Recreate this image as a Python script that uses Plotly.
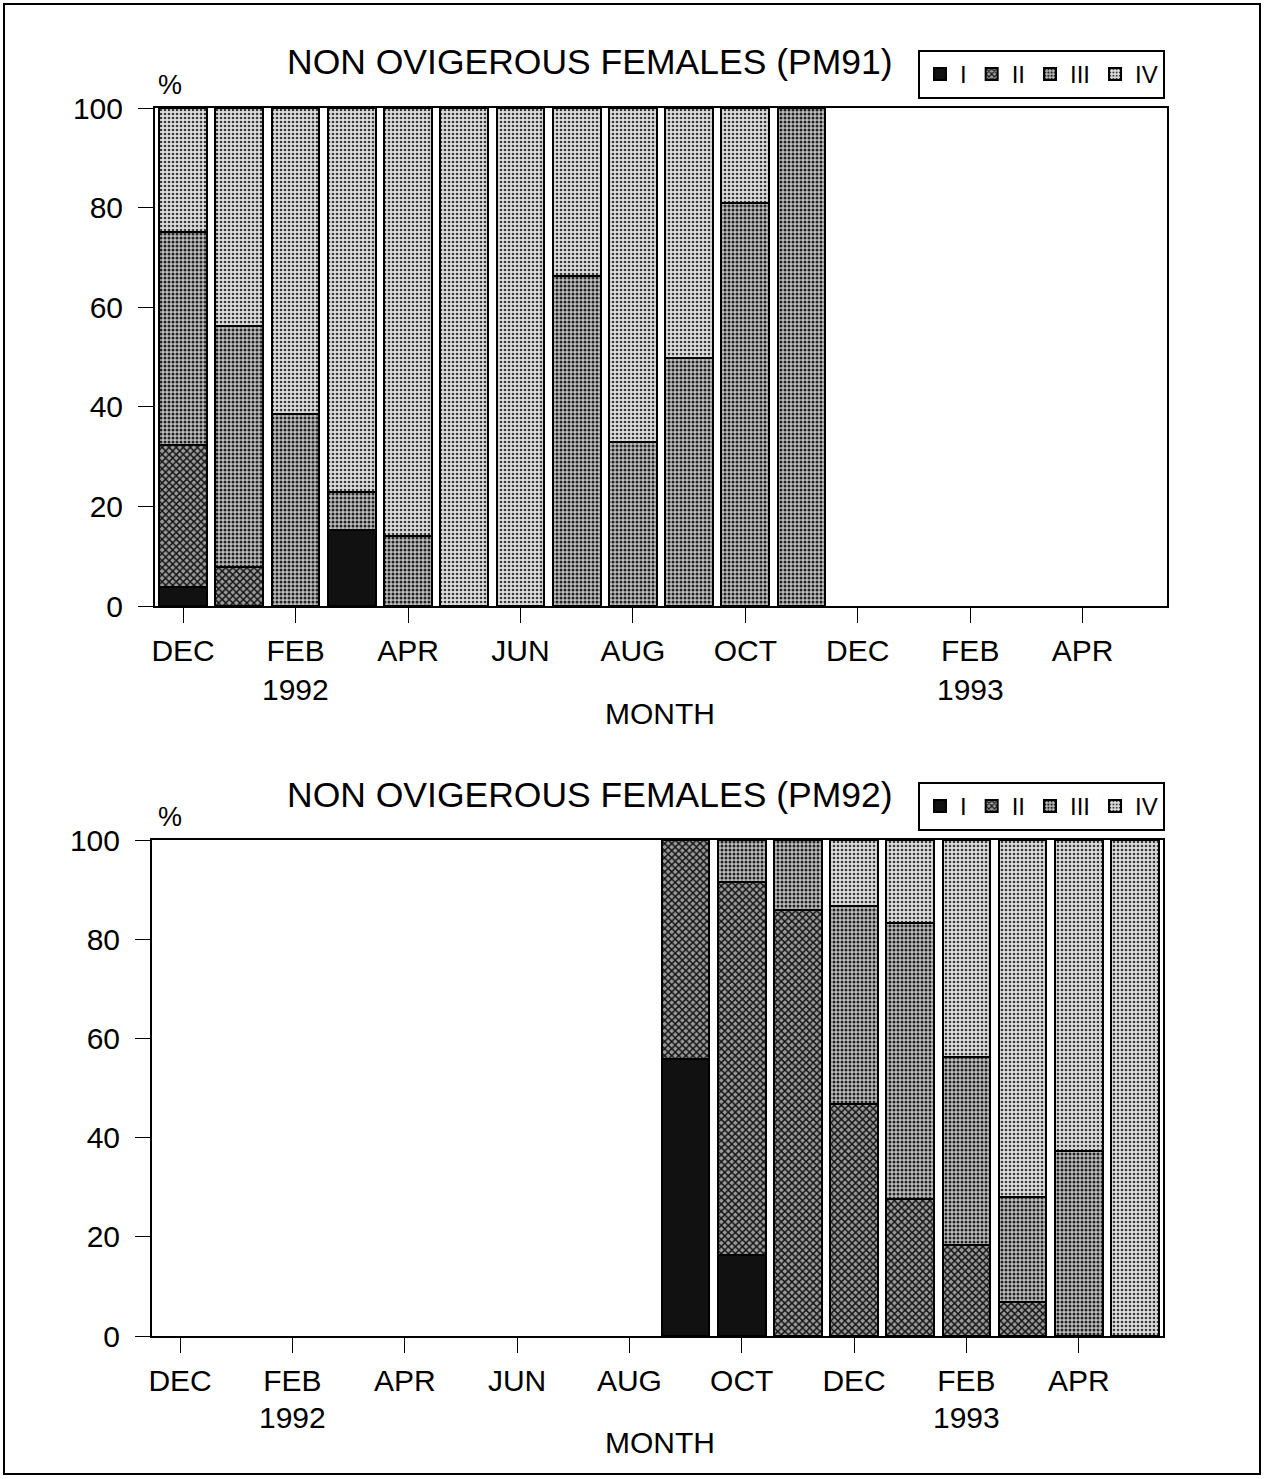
import plotly.graph_objects as go

# ---------------- data ----------------
month_ticks = ["DEC", "FEB", "APR", "JUN", "AUG", "OCT", "DEC", "FEB", "APR"]
tick_pos = [0, 2, 4, 6, 8, 10, 12, 14, 16]          # month index (0 = Dec 1991)
stages = ["I", "II", "III", "IV"]

# PM91 cohort: Dec 1991 .. Nov 1992
pm91_months = list(range(0, 12))
pm91_I   = [3.8, 0, 0, 15.3, 0, 0, 0, 0, 0, 0, 0, 0]
pm91_II  = [28.5, 7.9, 0, 0, 0, 0, 0, 0, 0, 0, 0, 0]
pm91_III = [42.9, 48.3, 38.5, 7.5, 14.1, 0, 0, 66.3, 32.9, 49.9, 80.9, 100]
pm91_IV  = [24.8, 43.8, 61.5, 77.2, 85.9, 100, 100, 33.7, 67.1, 50.1, 19.1, 0]

# PM92 cohort: Sep 1992 .. May 1993
pm92_months = list(range(9, 18))
pm92_I   = [55.8, 16.4, 0, 0, 0, 0, 0, 0, 0]
pm92_II  = [44.2, 75.1, 85.8, 46.7, 27.7, 18.4, 6.9, 0, 0]
pm92_III = [0, 8.5, 14.2, 39.9, 55.6, 37.9, 21.2, 37.2, 0]
pm92_IV  = [0, 0, 0, 13.4, 16.7, 43.7, 71.9, 62.8, 100]

years = ["1992", "1993"]
year_pos = [2, 14]

# ---------------- styles ----------------
FONT = "Liberation Sans, Arial, Helvetica, sans-serif"
styles = {
    "I":   dict(solid="#111111"),
    "II":  dict(pattern=dict(shape="x", fgcolor="#151515", bgcolor="#9c9c9c", size=5, solidity=0.5)),
    "III": dict(pattern=dict(shape=".", fgcolor="#222222", bgcolor="#bdbdbd", size=4, solidity=0.45)),
    "IV":  dict(pattern=dict(shape=".", fgcolor="#3a3a3a", bgcolor="#dedede", size=4, solidity=0.35)),
}

W, H = 1265, 1479
def px_x(p):
    return p / W
def px_y(p):
    return 1 - p / H

fig = go.Figure()

def nz(v):
    return [x if x > 0 else None for x in v]

for months, series, xa, ya, leg in [
        (pm91_months, [pm91_I, pm91_II, pm91_III, pm91_IV], "x", "y", "legend"),
        (pm92_months, [pm92_I, pm92_II, pm92_III, pm92_IV], "x2", "y2", "legend2")]:
    for name, vals in zip(stages, series):
        st = styles[name]
        if "solid" in st:
            marker = dict(color=st["solid"], line=dict(color="black", width=2))
        else:
            marker = dict(color=st["pattern"]["bgcolor"], pattern=st["pattern"],
                          line=dict(color="black", width=2))
        fig.add_trace(go.Bar(
            x=months, y=nz(vals), name=name, marker=marker, width=0.85,
            xaxis=xa, yaxis=ya, legend=leg, showlegend=True,
        ))

axis_common_x = dict(
    range=[-0.5, 17.5], tickmode="array", tickvals=tick_pos, ticktext=month_ticks,
    ticks="outside", ticklen=15, tickwidth=1, tickcolor="black",
    showline=True, linecolor="black", linewidth=2, mirror=True,
    showgrid=False, zeroline=False, ticklabelstandoff=2, automargin=False,
    tickfont=dict(family=FONT, size=30, color="black"),
)
axis_common_y = dict(
    range=[0, 100], tickvals=[0, 20, 40, 60, 80, 100],
    ticks="outside", ticklen=15, tickwidth=1, tickcolor="black",
    showline=True, linecolor="black", linewidth=2, mirror=True,
    showgrid=False, zeroline=False, ticklabelstandoff=9, automargin=False,
    tickfont=dict(family=FONT, size=30, color="black"),
)

legend_common = dict(orientation="h", xanchor="left", yanchor="top",
                     bordercolor="black", borderwidth=2, bgcolor="white",
                     font=dict(family=FONT, size=24, color="black"),
                     traceorder="normal", itemclick=False)

fig.update_layout(
    template="none",
    width=W, height=H, autosize=False,
    margin=dict(l=0, r=0, t=0, b=0, pad=0),
    paper_bgcolor="white", plot_bgcolor="white",
    barmode="stack",
    font=dict(family=FONT, color="black"),
    xaxis=dict(domain=[px_x(155), px_x(1167)], anchor="y", **axis_common_x),
    yaxis=dict(domain=[px_y(606), px_y(108)], anchor="x", **axis_common_y),
    xaxis2=dict(domain=[px_x(152), px_x(1163)], anchor="y2", **axis_common_x),
    yaxis2=dict(domain=[px_y(1336), px_y(840)], anchor="x2", **axis_common_y),
    legend=dict(x=px_x(918), y=px_y(50), **legend_common),
    legend2=dict(x=px_x(918), y=px_y(782), **legend_common),
)

annotations = []
for title, yc in [("NON OVIGEROUS FEMALES (PM91)", 62), ("NON OVIGEROUS FEMALES (PM92)", 795)]:
    annotations.append(dict(text=title, x=px_x(590), y=px_y(yc), xref="paper", yref="paper",
                            showarrow=False, xanchor="center", yanchor="middle",
                            font=dict(family=FONT, size=35.5, color="black")))
for yc in [85, 817]:
    annotations.append(dict(text="%", x=px_x(170), y=px_y(yc), xref="paper", yref="paper",
                            showarrow=False, xanchor="center", yanchor="middle",
                            font=dict(family=FONT, size=27, color="black")))
for yc in [713, 1442]:
    annotations.append(dict(text="MONTH", x=px_x(660), y=px_y(yc), xref="paper", yref="paper",
                            showarrow=False, xanchor="center", yanchor="middle",
                            font=dict(family=FONT, size=30, color="black")))
for xa, yc in [("x", 689), ("x2", 1417)]:
    for yr, pos in zip(years, year_pos):
        annotations.append(dict(text=yr, x=pos, y=px_y(yc), xref=xa, yref="paper",
                                showarrow=False, xanchor="center", yanchor="middle",
                                font=dict(family=FONT, size=30, color="black")))
fig.update_layout(annotations=annotations)

fig.add_shape(type="rect", xref="paper", yref="paper",
              x0=px_x(4), x1=px_x(1260), y0=px_y(1474), y1=px_y(4),
              line=dict(color="black", width=2), fillcolor="rgba(0,0,0,0)")

fig.write_html("out.html", config={"displayModeBar": False},
               post_script="document.body.style.margin='0';document.body.style.overflow='hidden';")
